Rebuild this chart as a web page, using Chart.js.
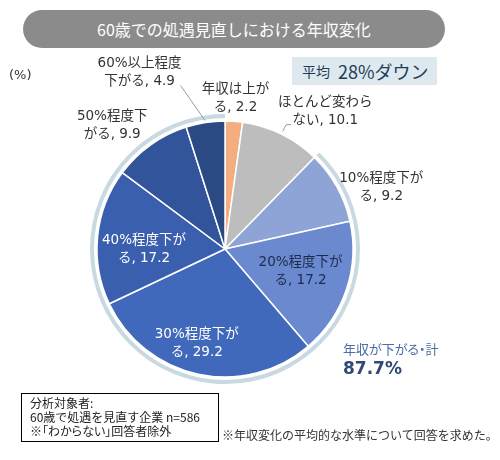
<!DOCTYPE html>
<html><head><meta charset="utf-8">
<script src="https://cdn.jsdelivr.net/npm/chart.js@4.4.1/dist/chart.umd.min.js"></script>
<style>
html,body{margin:0;padding:0;background:#fff;}
body{width:500px;height:460px;position:relative;overflow:hidden;font-family:"Noto Sans CJK JP","Noto Sans",sans-serif;}
#c{position:absolute;left:0;top:0;}
.t{position:absolute;white-space:nowrap;line-height:1;}
#title{left:23px;top:10px;width:422px;height:38px;border-radius:19px;background:#8b8b8b;color:#fff;font-size:16px;display:flex;align-items:center;justify-content:center;}
#pct{left:9px;top:68px;font-size:13px;color:#333;font-family:"DejaVu Sans","Noto Sans CJK JP",sans-serif;}
#avg{left:292px;top:57px;width:145px;height:28px;background:#dde9ee;color:#1f3d58;display:flex;align-items:center;}
#avg .a{font-size:14px;margin-left:10px;}
#avg .b{font-size:18px;margin-left:8px;}
#down{left:343px;top:342px;font-size:13px;color:#4a6ea6;font-feature-settings:"palt" 1;}
#tot{left:343px;top:360px;font-size:17px;font-weight:bold;color:#2f4a78;font-family:"DejaVu Sans","Noto Sans CJK JP",sans-serif;}
#note{left:21px;top:393px;width:188px;height:45px;border:1.5px solid #000;font-size:12px;color:#222;line-height:14px;padding:2px 0 0 8px;box-sizing:content-box;}
#note .p{font-feature-settings:"palt" 1;}
#foot{left:222px;top:429px;font-size:12px;color:#333;}
</style></head><body>
<canvas id="c" width="500" height="460"></canvas>
<div class="t" id="title">60歳での処遇見直しにおける年収変化</div>
<div class="t" id="pct">(%)</div>
<div class="t" id="avg"><span class="a">平均</span><span class="b">28%ダウン</span></div>
<div class="t" id="down">年収が下がる・計</div>
<div class="t" id="tot">87.7%</div>
<div class="t" id="note"><span class="p">分析対象者:</span><br>60歳で処遇を見直す企業 n=586<br><span class="p">※「わからない」回答者除外</span></div>
<div class="t" id="foot">※年収変化の平均的な水準について回答を求めた。</div>
<script>
// ---- data ----
const categories = ['年収は上がる','ほとんど変わらない','10%程度下がる','20%程度下がる','30%程度下がる','40%程度下がる','50%程度下がる','60%以上程度下がる'];
const values = [2.2, 10.1, 9.2, 17.2, 29.2, 17.2, 9.9, 4.9];
const labelLine1 = ['年収は上が','ほとんど変わら','10%程度下が','20%程度下が','30%程度下が','40%程度下が','50%程度下','60%以上程度'];
const labelLine2 = ['る','ない','る','る','る','る','がる','下がる'];
const colors = ['#f4ad80','#bdbdbd','#8ea4d6','#6a89cf','#4169bb','#3a5fae','#32549b','#2b4a84'];
const labelColors = ['#333','#333','#333','#1c2b4a','#fff','#fff','#333','#333'];
// label placement relative to slice (radius px, angle shift deg)
const labelR = [151,170,168,79,99,81,167,196];
const labelDA = [0,10,7.5,-1.6,4.5,-6,-7,-17];

const upSum = values.slice(0,2).reduce((a,b)=>a+b,0);
const downSum = values.slice(2).reduce((a,b)=>a+b,0);

const labelPlugin = {
  id:'sliceLabels',
  afterDatasetsDraw(chart){
    const meta = chart.getDatasetMeta(2);
    const ctx = chart.ctx;
    const pts = [];
    ctx.save();
    ctx.font = '13.5px "DejaVu Sans", "Noto Sans CJK JP", sans-serif';
    ctx.textAlign = 'center';
    ctx.textBaseline = 'middle';
    meta.data.forEach((arc,i)=>{
      const p = arc.getProps(['x','y','startAngle','endAngle','outerRadius'], true);
      const mid = (p.startAngle + p.endAngle)/2;
      const a = mid + labelDA[i]*Math.PI/180;
      const lx = p.x + labelR[i]*Math.cos(a), ly = p.y + labelR[i]*Math.sin(a);
      pts.push({p, mid, lx, ly});
      ctx.fillStyle = labelColors[i];
      ctx.fillText(labelLine1[i], lx, ly-9);
      ctx.fillText(labelLine2[i] + ', ' + values[i], lx, ly+9);
    });
    ctx.strokeStyle = '#9a9a9a';
    ctx.lineWidth = 1;
    // leader for last slice
    let q = pts[7];
    ctx.beginPath();
    ctx.moveTo(q.lx+41, q.ly+13);
    ctx.lineTo(q.p.x + (q.p.outerRadius+2)*Math.cos(q.mid), q.p.y + (q.p.outerRadius+2)*Math.sin(q.mid));
    ctx.stroke();
    // leader for slice 1
    q = pts[1];
    ctx.beginPath();
    ctx.moveTo(q.p.x + (q.p.outerRadius+3)*Math.cos(q.mid), q.p.y + (q.p.outerRadius+3)*Math.sin(q.mid));
    ctx.lineTo(q.lx-39, q.ly+13);
    ctx.lineTo(q.lx-34, q.ly+13);
    ctx.stroke();
    ctx.restore();
  }
};

new Chart(document.getElementById('c'), {
  type:'pie',
  data:{
    labels: categories,
    datasets:[
      {data:[upSum, downSum], backgroundColor:['rgba(0,0,0,0)','#c9d9e1'], borderWidth:0, weight:4, hoverOffset:0},
      {data:[100], backgroundColor:['rgba(0,0,0,0)'], borderWidth:0, weight:3, hoverOffset:0},
      {data:values, backgroundColor:colors, borderColor:'#ffffff', borderWidth:1.5, weight:128, hoverOffset:0}
    ]
  },
  options:{
    responsive:false,
    animation:false,
    events:[],
    radius:135,
    layout:{padding:{left:90,right:140,top:114,bottom:76}},
    plugins:{legend:{display:false}, tooltip:{enabled:false}}
  },
  plugins:[labelPlugin]
});
</script>
</body></html>
